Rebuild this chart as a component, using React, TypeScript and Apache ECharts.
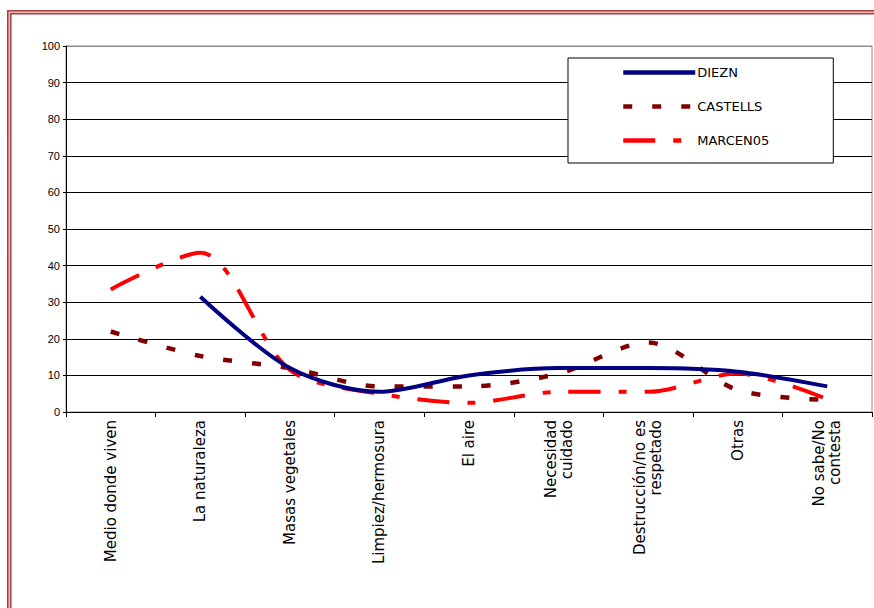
import React, { useEffect, useRef } from "react";
import * as echarts from "echarts";

const categories = [
  "Medio donde viven",
  "La naturaleza",
  "Masas vegetales",
  "Limpiez/hermosura",
  "El aire",
  "Necesidad\ncuidado",
  "Destrucción/no es\nrespetado",
  "Otras",
  "No sabe/No\ncontesta",
];
const seriesNames = ["DIEZN", "CASTELLS", "MARCEN05"];
const diezn = [null, 31.5, 12, 5.5, 10, 12, 12, 11, 7];
const castells = [22, 15.3, 12, 7, 7, 10.5, 19, 6, 3.3];
const marcen05 = [33.5, 43.5, 11.5, 5, 2.5, 5.5, 5.5, 10.5, 3.5];
const yTicks = [0, 10, 20, 30, 40, 50, 60, 70, 80, 90, 100];

export default function App() {
  const ref = useRef<HTMLDivElement>(null);
  useEffect(() => {
    if (!ref.current) return;
    const chart = echarts.init(ref.current, undefined, { renderer: "svg" });
    const splitColors = yTicks.map((t, i) => (i === yTicks.length - 1 ? "#8c8c8c" : "#000000"));
    chart.setOption({
      animation: false,
      backgroundColor: "#ffffff",
      grid: {
        left: 66,
        right: 2,
        top: 46,
        bottom: 196,
        show: true,
        borderColor: "#8c8c8c",
        borderWidth: 1,
        backgroundColor: "transparent",
      },
      legend: {
        orient: "vertical",
        left: 568,
        top: 58,
        itemWidth: 72,
        itemHeight: 14,
        itemGap: 21,
        padding: [8, 64, 16, 53],
        borderColor: "#000000",
        borderWidth: 1,
        backgroundColor: "#ffffff",
        data: seriesNames,
        itemStyle: { color: "rgba(0,0,0,0)", borderWidth: 0, opacity: 0 },
        lineStyle: { width: 4.5 },
        textStyle: { fontSize: 13, fontFamily: "DejaVu Sans", color: "#000000", padding: [0, 0, 0, -3] },
      },
      xAxis: {
        type: "category",
        data: categories,
        boundaryGap: true,
        axisLine: { show: true, lineStyle: { color: "#000000", width: 1 } },
        axisTick: { show: true, interval: 0, length: 5, lineStyle: { color: "#000000" } },
        axisLabel: {
          interval: 0,
          rotate: 90,
          margin: 8,
          fontSize: 15,
          lineHeight: 16,
          fontFamily: "DejaVu Sans",
          color: "#000000",
        },
        splitLine: { show: false },
      },
      yAxis: {
        type: "value",
        min: 0,
        max: 100,
        interval: 10,
        axisLine: { show: true, lineStyle: { color: "#000000", width: 1 } },
        axisTick: { show: true, length: 3, lineStyle: { color: "#000000" } },
        axisLabel: {
          fontSize: 11,
          fontFamily: "Arial, 'Liberation Sans', sans-serif",
          color: "#000000",
          margin: 6,
        },
        splitLine: { show: true, lineStyle: { color: splitColors, width: 1 } },
      },
      series: [
        {
          name: seriesNames[0],
          type: "line",
          data: diezn,
          smooth: 0.3,
          symbol: "none",
          connectNulls: false,
          lineStyle: { color: "#000080", width: 4, type: "solid" },
          itemStyle: { color: "#000080" },
          z: 4,
        },
        {
          name: seriesNames[1],
          type: "line",
          data: castells,
          smooth: 0.3,
          symbol: "none",
          lineStyle: { color: "#800000", width: 4.5, type: [9, 20], cap: "butt" },
          itemStyle: { color: "#800000" },
          z: 3,
        },
        {
          name: seriesNames[2],
          type: "line",
          data: marcen05,
          smooth: 0.3,
          symbol: "none",
          lineStyle: { color: "#ff0000", width: 4, type: [32, 18, 8, 18], cap: "butt" },
          itemStyle: { color: "#ff0000" },
          z: 3,
        },
      ],
      graphic: [
        {
          type: "rect",
          silent: true,
          shape: { x: 9.3, y: 12.3, width: 900, height: 700 },
          style: { fill: "none", stroke: "#a84040", lineWidth: 4.6 },
        },
        {
          type: "rect",
          silent: true,
          shape: { x: 9.3, y: 12.3, width: 900, height: 700 },
          style: { fill: "none", stroke: "#e6baba", lineWidth: 1.6 },
        },
      ],
    });
    return () => chart.dispose();
  }, []);
  return (
    <div
      ref={ref}
      style={{ position: "absolute", left: 0, top: 0, width: 874, height: 608, background: "#fff" }}
    />
  );
}
